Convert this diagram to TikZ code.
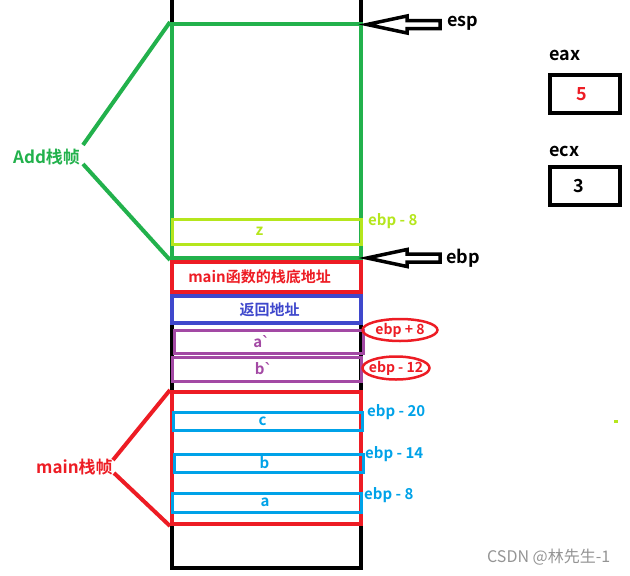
\documentclass[tikz,border=0pt]{standalone}
\usepackage{fontspec}
\setmainfont{Noto Sans CJK SC}[BoldFont={Noto Sans CJK SC Bold}]
\newfontfamily\gravefont{DejaVu Sans}
\newcommand{\grv}{{\gravefont\bfseries\symbol{96}}}
\usetikzlibrary{shapes.geometric}
\definecolor{cgreen}{RGB}{34,177,76}
\definecolor{cyel}{RGB}{181,230,29}
\definecolor{cred}{RGB}{237,28,36}
\definecolor{cblue}{RGB}{63,72,204}
\definecolor{cpurp}{RGB}{163,73,164}
\definecolor{ccyan}{RGB}{0,162,232}
\tikzset{
  slot/.style={draw=#1,text=#1,rectangle,inner sep=0pt,minimum width=189pt,font=\bfseries\fontsize{15}{15}\selectfont},
  lbl/.style={anchor=west,inner sep=0pt,text=#1,font=\bfseries\fontsize{15}{15}\selectfont},
  big/.style={anchor=west,inner sep=0pt,font=\bfseries\fontsize{18}{18}\selectfont},
  reg/.style={draw=black,line width=4pt,rectangle,inner sep=0pt,minimum width=70pt,minimum height=38pt,font=\bfseries\fontsize{18}{18}\selectfont},
  oval/.style={ellipse,draw=cred,line width=2.5pt,text=cred,inner sep=-6pt,font=\bfseries\fontsize{14}{14}\selectfont},
  hollow/.style={draw=black,line width=3.5pt,line join=miter},
  frame/.style={line width=4pt}
}
\begin{document}
\begin{tikzpicture}[x=1pt,y=-1pt]
\useasboundingbox (0,0) rectangle (630,576);
% black stack column
\coordinate (ctl) at (172,0);
\coordinate (ctr) at (361,0);
\draw[line width=4pt] (ctl) -- (172,568) -- (361,568) -- (ctr);
% Add frame
\node[slot=cgreen,line width=4pt,minimum width=189pt,minimum height=234pt] (add) at (266.5,141) {};
\node[slot=cyel,line width=3pt,minimum height=25pt] (z) at (266.5,231.5) {\hspace*{-14pt}z};
\node[lbl=cyel] (zl) at (368,221) {ebp - 8};
% main base
\node[slot=cred,line width=3.5pt,minimum height=30pt] (base) at (266.5,277) {\hspace*{-14pt}main函数的栈底地址};
\node[slot=cblue,line width=3.5pt,minimum height=27pt] (ret) at (266.5,309.5) {\hspace*{6pt}返回地址};
\node[slot=cpurp,line width=3pt,minimum height=23pt] (ap) at (268.5,341.5) {\hspace*{-14pt}a\grv};
\node[slot=cpurp,line width=3pt,minimum height=24pt] (bp) at (266.5,369) {\hspace*{-6pt}b\grv};
\node[oval,minimum width=75pt,minimum height=22pt] (e1) at (400,330) {ebp + 8};
\node[oval,minimum width=67pt,minimum height=23pt] (e2) at (396,368) {ebp - 12};
% main frame
\node[slot=cred,line width=4pt,minimum height=132pt] (mainf) at (266.5,458) {};
\node[slot=ccyan,line width=3pt,minimum height=18pt] (c) at (267.5,421) {\hspace*{-10pt}c};
\node[slot=ccyan,line width=3pt,minimum height=18pt] (b) at (268.5,463) {\hspace*{-8pt}b};
\node[slot=ccyan,line width=3pt,minimum height=19pt] (a) at (267,502.5) {\hspace*{-4pt}a};
\node[lbl=ccyan] (cl) at (367,412) {ebp - 20};
\node[lbl=ccyan] (bl) at (365,454) {ebp - 14};
\node[lbl=ccyan] (al) at (364,495) {ebp - 8};
% frame labels
\node[big,text=cgreen,font=\bfseries\fontsize{17}{17}\selectfont] (addl) at (13,157) {Add栈帧};
\draw[cgreen,frame] (add.north west) -- (83,145);
\draw[cgreen,frame] (83,164) -- (add.south west);
\node[big,text=cred,font=\bfseries\fontsize{17}{17}\selectfont] (mainl) at (36,467) {main栈帧};
\draw[cred,frame] (mainf.north west) -- (113,460);
\draw[cred,frame] (114,473) -- (mainf.south west);
% esp / ebp arrows
\coordinate (esp) at (367,24.5);
\coordinate (ebp) at (367,258);
\foreach \p in {esp,ebp}{
  \draw[hollow] (\p) -- ++(40,-8.5) -- ++(0,4.5) -- ++(33,0) -- ++(0,8) -- ++(-33,0) -- ++(0,4.5) -- cycle;
}
\node[big] (espl) at (447,23) {esp};
\node[big] (ebpl) at (446,258) {ebp};
% registers
\node[big] (eaxl) at (549,55) {eax};
\node[reg,text=cred] (eax) at (585,94) {\hspace*{-6pt}5};
\node[big] (ecxl) at (549,151) {ecx};
\node[reg] (ecx) at (585,186) {\hspace*{-12pt}3};
% stray dot
\fill[cyel] (614,420) rectangle (618,423);
% watermark
\node[anchor=west,inner sep=0pt,text=black!42,font=\fontsize{16}{16}\selectfont] (wm) at (487,557) {CSDN @林先生-1};
\end{tikzpicture}
\end{document}
